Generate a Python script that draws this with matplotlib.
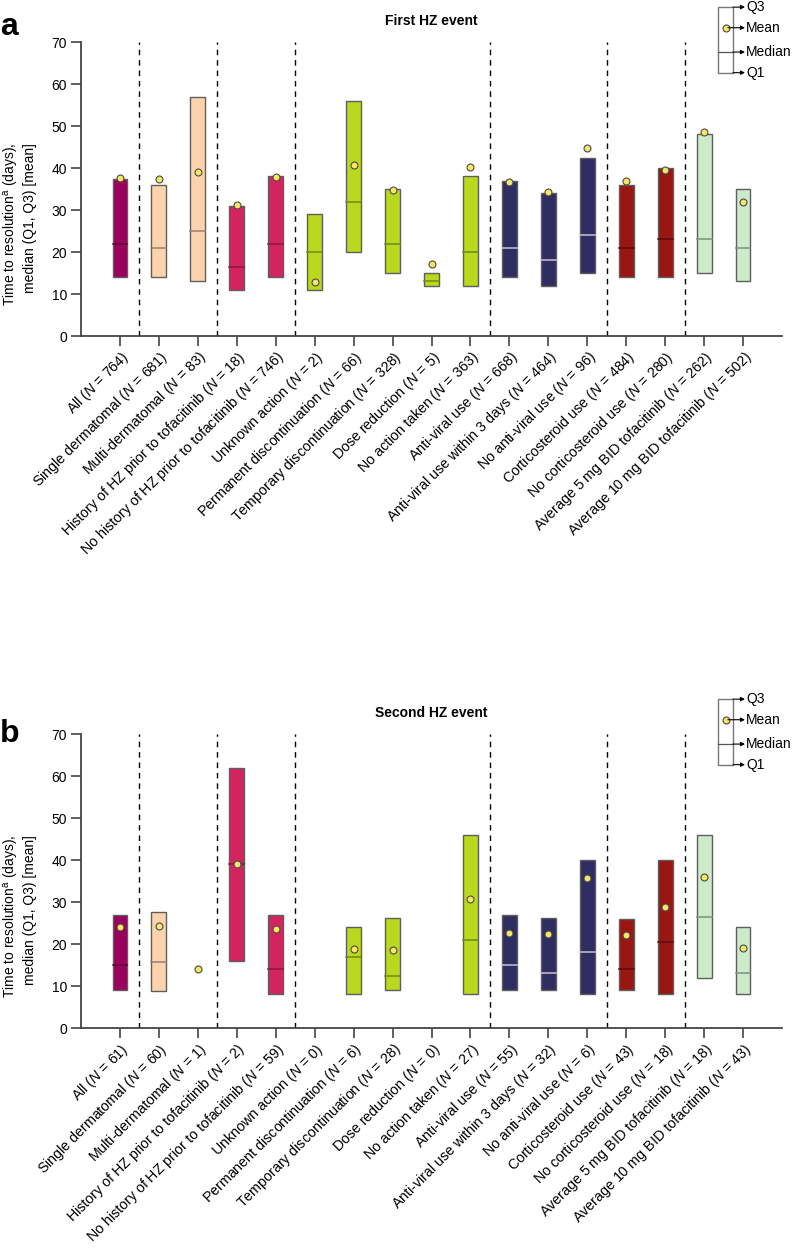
import numpy as np
import matplotlib as mpl
import matplotlib.pyplot as plt

plt.rcParams["font.family"] = ["Liberation Sans", "DejaVu Sans"]
plt.rcParams["mathtext.fontset"] = "custom"
plt.rcParams["mathtext.rm"] = "Liberation Sans"
plt.rcParams["mathtext.it"] = "Liberation Sans:italic"

# category names (same for both panels)
categories = [
    "All", "Single dermatomal", "Multi-dermatomal", "History of HZ prior to tofacitinib",
    "No history of HZ prior to tofacitinib", "Unknown action", "Permanent discontinuation",
    "Temporary discontinuation", "Dose reduction", "No action taken", "Anti-viral use",
    "Anti-viral use within 3 days", "No anti-viral use", "Corticosteroid use",
    "No corticosteroid use", "Average 5 mg BID tofacitinib", "Average 10 mg BID tofacitinib",
]
group = [0, 1, 1, 2, 2, 3, 3, 3, 3, 3, 4, 4, 4, 5, 5, 6, 6]

# panel a: first HZ event
n_first = [764, 681, 83, 18, 746, 2, 66, 328, 5, 363, 668, 464, 96, 484, 280, 262, 502]
q1_first = [14, 14, 13, 11, 14, 11, 20, 15, 12, 12, 14, 12, 15, 14, 14, 15, 13]
med_first = [22, 21, 25, 16.5, 22, 20, 32, 22, 13, 20, 21, 18, 24, 21, 23, 23, 21]
q3_first = [37.5, 36, 57, 31, 38, 29, 56, 35, 15, 38, 37, 34, 42.5, 36, 40, 48, 35]
mean_first = [37.6, 37.4, 39, 31.2, 37.8, 12.8, 40.7, 34.7, 17.1, 40.2, 36.7, 34.2, 44.8, 36.9, 39.5, 48.6, 32]

# panel b: second HZ event (None = no patients / no box)
n_second = [61, 60, 1, 2, 59, 0, 6, 28, 0, 27, 55, 32, 6, 43, 18, 18, 43]
q1_second = [9, 8.7, None, 16, 8, None, 8, 9, None, 8, 9.1, 9, 8, 9, 8, 12, 8]
med_second = [15, 15.6, None, 39, 14, None, 17, 12.5, None, 21, 15, 13.1, 18, 14, 20.4, 26.4, 13]
q3_second = [27, 27.7, None, 62, 27, None, 24, 26.3, None, 46, 27, 26.3, 40, 26, 40, 46, 24]
mean_second = [24, 24.4, 14, 39, 23.6, None, 18.9, 18.6, None, 30.7, 22.7, 22.3, 35.7, 22.1, 28.7, 36, 19]

fill_colors = ["#9c005d", "#fdd3ae", "#d42460", "#bad81e", "#2f2d62", "#9a1612", "#cdeaca"]
median_colors = ["#5a0036", "#9a8070", "#8a1640", "#6e8a14", "#c4c3d6", "#5a0c0a", "#7d907d"]
dividers = [0.5, 2.5, 4.5, 9.5, 12.5, 14.5]


def draw_panel(ax, q1, med, q3, mean, n, title):
    x = np.arange(len(categories))
    w = 0.38
    for i in x:
        g = group[i]
        if q1[i] is not None:
            ax.bar(i, q3[i] - q1[i], bottom=q1[i], width=w, color=fill_colors[g],
                   edgecolor="#5e5e5e", linewidth=1.0, zorder=2)
            ax.plot([i - w / 2, i + w / 2], [med[i], med[i]], color=median_colors[g], lw=1.1, zorder=3)
        if mean[i] is not None:
            ax.plot(i, mean[i], "o", ms=5, mfc="#f6e666", mec="#4a4a4a", mew=0.8, zorder=4, clip_on=False)
    ax.vlines(dividers, 0, 70, colors="black", linestyles=(0, (4, 3.5)), lw=1.0, zorder=1)

    ax.set_xlim(-1, 17)
    ax.set_ylim(0, 70)
    ax.set_yticks(range(0, 71, 10))
    ax.set_xticks(x)
    ax.set_xticklabels([c + " ($N$ = %d)" % k for c, k in zip(categories, n)],
                       rotation=45, ha="right", va="top", rotation_mode="anchor", fontsize=10.3)
    ax.tick_params(axis="y", labelsize=10, length=7, width=1.2, color="#444444", pad=3)
    ax.tick_params(axis="x", length=7, width=1.2, color="#444444", pad=2)
    for s in ["top", "right"]:
        ax.spines[s].set_visible(False)
    for s in ["left", "bottom"]:
        ax.spines[s].set_color("#444444")
        ax.spines[s].set_linewidth(1.3)
    ax.set_ylabel("Time to resolution$^{\\rm a}$ (days),\nmedian (Q1, Q3) [mean]", fontsize=10,
                  multialignment="right")
    ax.yaxis.set_label_coords(-0.063, 0.38)
    ax.text(0.5, 1.072, title, transform=ax.transAxes, ha="center", va="center",
            fontsize=10, fontweight="bold")

    # small key in the top right corner
    bx0, bx1 = 15.36, 15.74
    ytop, ymean, ymed, ybot = 78.3, 73.4, 67.6, 62.7
    ax.add_patch(mpl.patches.Rectangle((bx0, ybot), bx1 - bx0, ytop - ybot, fill=False,
                                       edgecolor="#777777", lw=1.0, clip_on=False))
    ax.plot([bx0, bx1], [ymed, ymed], color="#555555", lw=0.9, clip_on=False)
    ax.plot((bx0 + bx1) / 2, ymean, "o", ms=5, mfc="#f6e666", mec="#4a4a4a", mew=0.8, clip_on=False)
    for yy, lab, x0 in [(ytop, "Q3", bx1), (ymean, "Mean", (bx0 + bx1) / 2 + 0.06),
                        (ymed, "Median", bx1), (ybot, "Q1", bx1)]:
        ax.annotate("", xy=(16.05, yy), xytext=(x0, yy), annotation_clip=False,
                    arrowprops=dict(arrowstyle="-|>", lw=0.8, color="black", mutation_scale=6,
                                    shrinkA=0, shrinkB=0))
        ax.text(16.08, yy, lab, ha="left", va="center", fontsize=10, clip_on=False)


fig = plt.figure(figsize=(7.97, 12.49), dpi=100)
W, H = 797, 1249
ax_a = fig.add_axes([81 / W, (H - 336) / H, 701 / W, 294 / H])
ax_b = fig.add_axes([81 / W, (H - 1028) / H, 701 / W, 294 / H])

draw_panel(ax_a, q1_first, med_first, q3_first, mean_first, n_first, "First HZ event")
draw_panel(ax_b, q1_second, med_second, q3_second, mean_second, n_second, "Second HZ event")

fig.text(0.0, (H - 35) / H, "a", fontsize=23, fontweight="bold", va="baseline")
fig.text(0.0, (H - 742) / H, "b", fontsize=23, fontweight="bold", va="baseline")

fig.savefig("out.png", dpi=100)
